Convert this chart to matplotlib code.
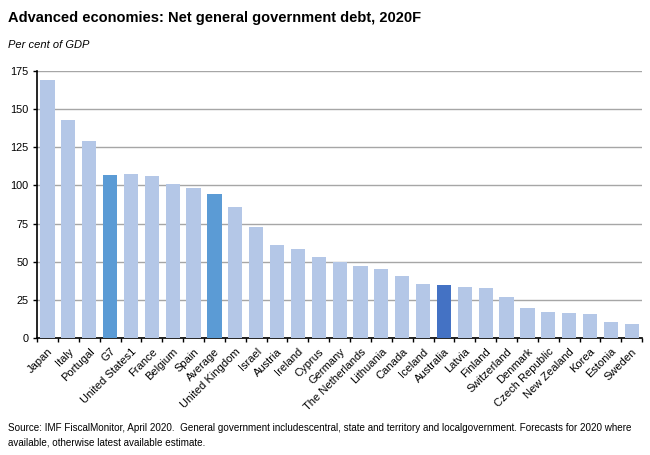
import matplotlib
matplotlib.use("Agg")
from matplotlib import pyplot as plt
import numpy as np

plt.rcParams['font.family'] = ['Liberation Sans Narrow', 'Liberation Sans', 'DejaVu Sans']

# datos
paises = ['Japan', 'Italy', 'Portugal', 'G7', 'United States1', 'France', 'Belgium',
          'Spain', 'Average', 'United Kingdom', 'Israel', 'Austria', 'Ireland', 'Cyprus',
          'Germany', 'The Netherlands', 'Lithuania', 'Canada', 'Iceland', 'Australia',
          'Latvia', 'Finland', 'Switzerland', 'Denmark', 'Czech Republic', 'New Zealand',
          'Korea', 'Estonia', 'Sweden']
deuda = [168.9, 142.8, 129.2, 107.0, 107.2, 106.5, 100.9, 98.1, 94.2, 86.1, 72.8, 60.8,
         58.4, 53.2, 49.7, 47.3, 45.3, 40.5, 35.5, 34.7, 33.6, 32.9, 26.8, 19.4, 17.0,
         16.3, 15.9, 10.7, 8.9]
resaltados = {'G7': '#5B9BD5', 'Average': '#5B9BD5', 'Australia': '#4472C4'}
yticks = [0, 25, 50, 75, 100, 125, 150, 175]

colores = [resaltados.get(p, '#B4C7E7') for p in paises]
x = np.arange(len(paises))

fig = plt.figure(figsize=(6.5, 4.55), dpi=100)
ax = fig.add_axes([0.057, 0.257, 0.931, 0.587])

ax.bar(x, deuda, width=0.68, color=colores, zorder=3)

ax.set_xlim(-0.5, len(paises) - 0.5)
ax.set_ylim(0, 175)
ax.set_yticks(yticks)
ax.yaxis.grid(True, color='#A6A6A6', linewidth=1.0, zorder=0)
ax.tick_params(axis='y', labelsize=7.8, length=3, width=1, direction='out', pad=3)

# etiquetas en el centro, marcas entre categorias
ax.set_xticks(x)
ax.set_xticklabels(paises, rotation=45, ha='right', rotation_mode='anchor', fontsize=8)
ax.tick_params(axis='x', which='major', length=0, pad=6)
ax.set_xticks(np.arange(-0.5, len(paises), 1), minor=True)
ax.tick_params(axis='x', which='minor', length=3, width=1, direction='out')

for lado in ['top', 'right']:
    ax.spines[lado].set_visible(False)
for lado in ['left', 'bottom']:
    ax.spines[lado].set_color('black')
    ax.spines[lado].set_linewidth(1.2)

fig.text(0.012, 0.96, 'Advanced economies: Net general government debt, 2020F',
         fontsize=10.5, fontweight='bold', va='center')
fig.text(0.012, 0.9, 'Per cent of GDP', fontsize=8, style='italic', va='center')
fig.text(0.012, 0.044, 'Source: IMF FiscalMonitor, April 2020.  General government includescentral, '
         'state and territory and localgovernment. Forecasts for 2020 where\n'
         'available, otherwise latest available estimate.',
         fontsize=7.1, va='center', linespacing=1.6)

fig.savefig('out.png', dpi=100)
